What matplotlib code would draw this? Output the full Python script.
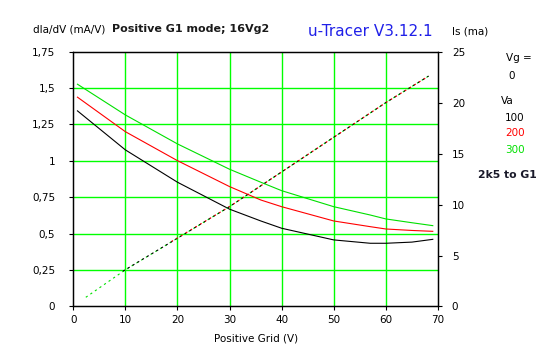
import matplotlib.pyplot as plt
import numpy as np

# gm curves (dIa/dV, mA/V) vs positive grid voltage
vg = [0.8, 10, 20, 30, 36, 40, 50, 57, 60, 65, 69]
gm_100 = [1.343, 1.075, 0.853, 0.668, 0.587, 0.537, 0.457, 0.434, 0.434, 0.442, 0.461]
gm_200 = [1.437, 1.20, 1.001, 0.823, 0.731, 0.685, 0.587, 0.548, 0.532, 0.522, 0.516]
gm_300 = [1.526, 1.315, 1.116, 0.942, 0.853, 0.795, 0.685, 0.628, 0.601, 0.575, 0.555]

# screen current Is (mA) vs positive grid voltage
vg_is = [2.4, 10, 20, 30, 40, 50, 60, 68.2]
is_300 = [0.9, 3.6, 6.7, 9.8, 13.2, 16.6, 20.0, 22.6]
vg_is_100 = [9, 20, 30, 40, 50, 60, 68.2]
is_100 = [3.3, 6.7, 9.8, 13.2, 16.6, 20.0, 22.6]
vg_is_200 = [18.6, 30, 40, 50, 60, 68.2]
is_200 = [6.3, 9.8, 13.2, 16.6, 20.0, 22.6]

x_ticks = [0, 10, 20, 30, 40, 50, 60, 70]
y_ticks = [0, 0.25, 0.5, 0.75, 1, 1.25, 1.5, 1.75]
y_labels = ['0', '0,25', '0,5', '0,75', '1', '1,25', '1,5', '1,75']
is_ticks = [0, 5, 10, 15, 20, 25]

GREEN = '#00ff00'
LGREEN = '#00e000'

fig = plt.figure(figsize=(5.47, 3.57), dpi=100)
ax = fig.add_axes([0.134, 0.1415, 0.6667, 0.714])
ax.set_xlim(0, 70)
ax.set_ylim(0, 1.75)

for x in x_ticks[1:-1]:
    ax.axvline(x, color=GREEN, lw=1.0, zorder=1)
for y in y_ticks[1:-1]:
    ax.axhline(y, color=GREEN, lw=1.0, zorder=1)

ax.plot(vg, gm_100, color='black', lw=0.8, zorder=3)
ax.plot(vg, gm_200, color='red', lw=0.8, zorder=3)
ax.plot(vg, gm_300, color=LGREEN, lw=0.8, zorder=3)

ax2 = ax.twinx()
ax2.set_ylim(0, 25)
ax2.plot(vg_is, is_300, color=LGREEN, lw=0.8, ls=(0, (2, 3)), zorder=3)
ax2.plot(vg_is_100, is_100, color='black', lw=0.8, ls=(2, (2, 3)), zorder=3)
ax2.plot(vg_is_200, is_200, color='red', lw=0.8, ls=(3.5, (1.5, 3.5)), zorder=3)

ax.set_xticks(x_ticks)
ax.set_xticklabels([str(x) for x in x_ticks], fontsize=7.5)
ax.set_yticks(y_ticks)
ax.set_yticklabels(y_labels, fontsize=7.5)
ax2.set_yticks(is_ticks)
ax2.set_yticklabels([str(v) for v in is_ticks], fontsize=7.5)
ax.tick_params(length=3, width=0.8, pad=10)
ax.tick_params(axis='x', pad=3)
ax2.tick_params(length=3, width=0.8, pad=7)
for a in (ax, ax2):
    for s in a.spines.values():
        s.set_linewidth(0.9)

ax.set_xlabel('Positive Grid (V)', fontsize=7.5, labelpad=6)

fig.text(33 / 547, 1 - 29 / 357, 'dIa/dV (mA/V)', fontsize=7.5, va='center')
fig.text(112 / 547, 1 - 29 / 357, 'Positive G1 mode; 16Vg2', fontsize=8,
         fontweight='bold', color='#1a1a1a', va='center')
fig.text(308 / 547, 1 - 31 / 357, 'u-Tracer V3.12.1', fontsize=11,
         color='#2020e8', va='center')
fig.text(452 / 547, 1 - 31 / 357, 'Is (ma)', fontsize=7.5, va='center')

fig.text(506 / 547, 1 - 58 / 357, 'Vg =', fontsize=7.5, va='center')
fig.text(508 / 547, 1 - 76 / 357, '0', fontsize=7.5, va='center')
fig.text(501 / 547, 1 - 101 / 357, 'Va', fontsize=7.5, va='center')
fig.text(505 / 547, 1 - 118 / 357, '100', fontsize=7.5, color='black', va='center')
fig.text(505 / 547, 1 - 133 / 357, '200', fontsize=7.5, color='red', va='center')
fig.text(505 / 547, 1 - 150 / 357, '300', fontsize=7.5, color=LGREEN, va='center')
fig.text(478 / 547, 1 - 175 / 357, '2k5 to G1', fontsize=7.8, fontweight='bold',
         color='#1a1a2a', va='center')

fig.savefig('out.png', dpi=100)
